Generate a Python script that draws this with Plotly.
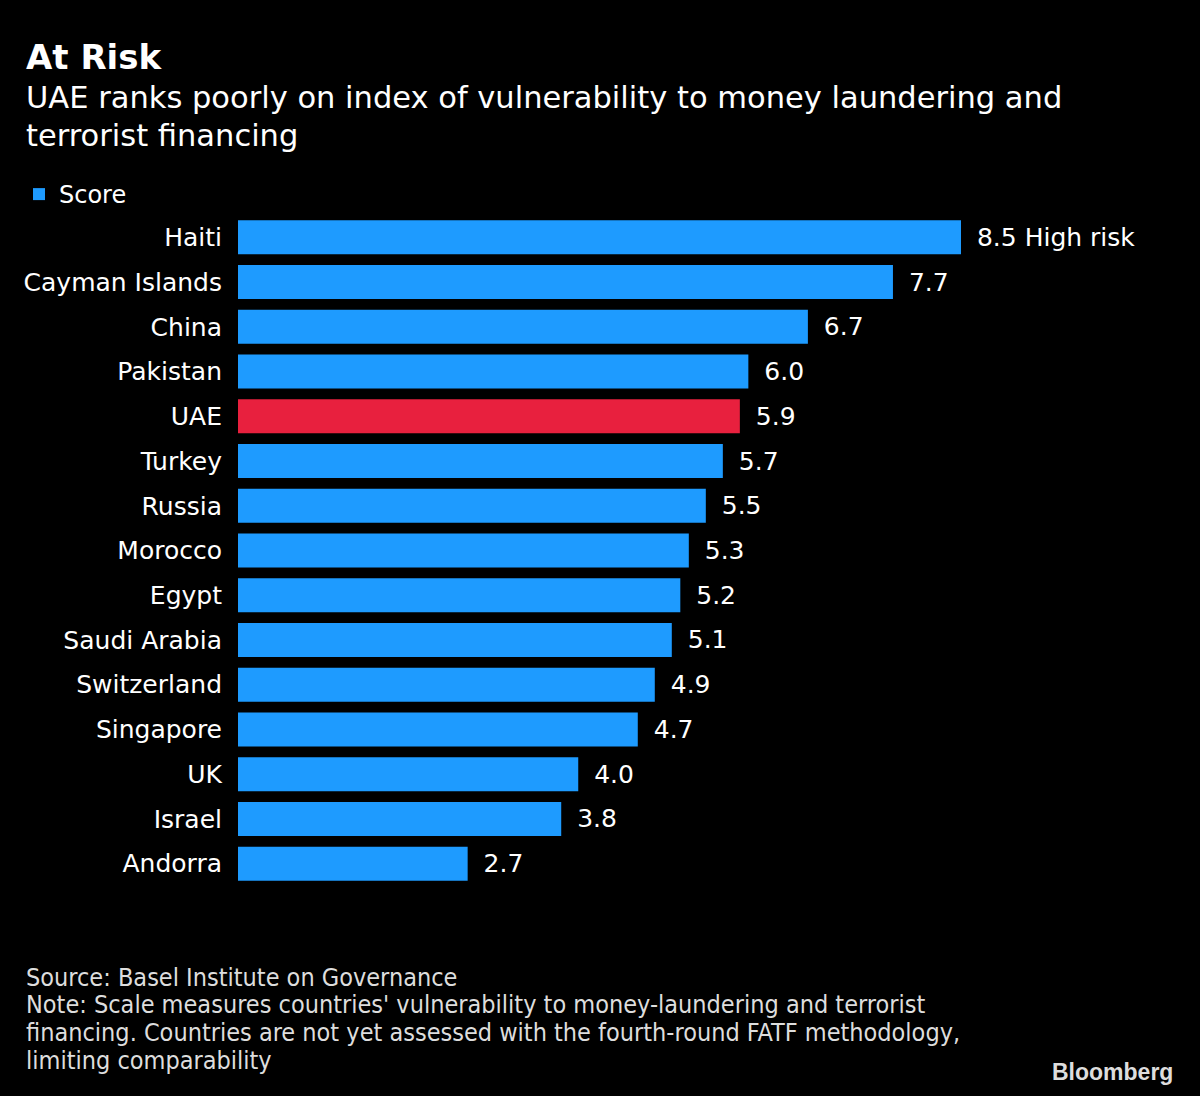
import plotly.graph_objects as go

countries = ["Haiti", "Cayman Islands", "China", "Pakistan", "UAE", "Turkey", "Russia",
             "Morocco", "Egypt", "Saudi Arabia", "Switzerland", "Singapore", "UK", "Israel", "Andorra"]
scores = [8.5, 7.7, 6.7, 6.0, 5.9, 5.7, 5.5, 5.3, 5.2, 5.1, 4.9, 4.7, 4.0, 3.8, 2.7]
value_labels = ["8.5 High risk", "7.7", "6.7", "6.0", "5.9", "5.7", "5.5", "5.3", "5.2", "5.1",
                "4.9", "4.7", "4.0", "3.8", "2.7"]
highlight = "UAE"

title = "At Risk"
subtitle_lines = ["UAE ranks poorly on index of vulnerability to money laundering and",
                  "terrorist financing"]
footer_lines = ["Source: Basel Institute on Governance",
                "Note: Scale measures countries' vulnerability to money-laundering and terrorist",
                "financing. Countries are not yet assessed with the fourth-round FATF methodology,",
                "limiting comparability"]

BLUE = "#1E9BFF"
RED = "#E8203E"
colors = [RED if c == highlight else BLUE for c in countries]

FONT = "DejaVu Sans"
W, H = 1200, 1096
ML, MT, MB = 238, 215, 210
PW, PH = W - ML, H - MT - MB

fig = go.Figure()
fig.add_trace(go.Bar(
    x=scores, y=countries, orientation="h", name="Score",
    marker=dict(color=colors, line=dict(width=0)),
    text=["\u00a0\u2009" + t for t in value_labels], textposition="outside", cliponaxis=False,
    textfont=dict(family=FONT, size=25, color="white"),
    showlegend=True,
))

px_per_unit = (961 - ML) / 8.5
xmax = PW / px_per_unit

fig.update_layout(
    width=W, height=H,
    paper_bgcolor="black", plot_bgcolor="black",
    margin=dict(l=ML, r=0, t=MT, b=MB, autoexpand=False),
    bargap=0.24,
    font=dict(family=FONT, color="white"),
    xaxis=dict(range=[0, xmax], visible=False, fixedrange=True, automargin=False),
    yaxis=dict(autorange="reversed", showgrid=False, zeroline=False, showline=False,
               ticks="", ticklabelstandoff=15, automargin=False, fixedrange=True,
               tickfont=dict(family=FONT, size=25, color="white")),
    legend=dict(x=19 / W, xref="container", y=1 - 172 / H, yref="container",
                xanchor="left", yanchor="top", font=dict(family=FONT, size=24, color="white"),
                bgcolor="rgba(0,0,0,0)", itemwidth=30),
    showlegend=True,
)


def px_ann(text, x, y, size, family=FONT, color="white", xanchor="left", yanchor="middle"):
    fig.add_annotation(text=text, xref="paper", yref="paper",
                       x=(x - ML) / PW, y=(H - MB - y) / PH,
                       xanchor=xanchor, yanchor=yanchor, showarrow=False, align="left",
                       font=dict(family=family, size=size, color=color))


px_ann("<b>" + title + "</b>", 24, 57, 34)
for i, line in enumerate(subtitle_lines):
    px_ann(line, 24, 98 + 37 * i, 30.5)
for i, line in enumerate(footer_lines):
    px_ann(line, 24, 977 + 27.7 * i, 25, family="DejaVu Sans Condensed", color="#dddddd")
px_ann("<b>Bloomberg</b>", 1175, 1072, 23, family="Liberation Sans", color="#dddddd",
       xanchor="right")

fig.write_html("out.html", config={"displayModeBar": False},
               post_script="document.body.style.margin='0';document.body.style.background='black';")
